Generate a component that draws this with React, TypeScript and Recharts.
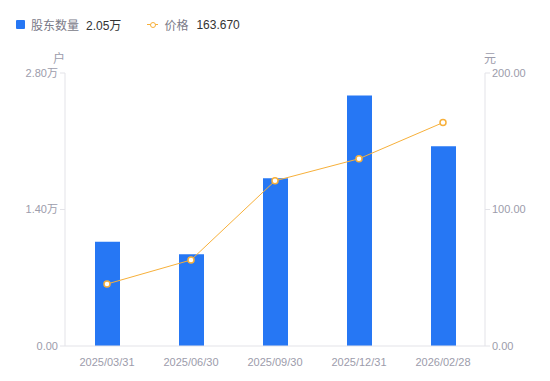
import { ComposedChart, Bar, Line, XAxis, YAxis } from 'recharts';

const dates = ['2025/03/31', '2025/06/30', '2025/09/30', '2025/12/31', '2026/02/28'];
// 股东数量, in 万户
const holders = [1.07, 0.94, 1.72, 2.57, 2.05];
// 价格, in 元
const prices = [45.4, 63.0, 121.0, 137.2, 163.67];
const leftTicks = [0, 1.4, 2.8];
const rightTicks = [0, 100, 200];

const data = dates.map((d, i) => ({ date: d, holders: holders[i], price: prices[i] }));

const FONT = '"Liberation Sans", Arial, "Noto Sans CJK SC", sans-serif';
const BLUE = '#2677f4';
const ORANGE = '#f7b03a';
const AXIS = '#e3e3e8';
const TICK = '#9c9cab';

export default function App() {
  return (
    <div style={{ position: 'absolute', left: 0, top: 0, width: 550, height: 381, background: '#fff', fontFamily: FONT }}>
      <div style={{ position: 'absolute', left: 16, top: 16, display: 'flex', alignItems: 'center', fontSize: 12, whiteSpace: 'nowrap' }}>
        <span style={{ width: 9, height: 9, background: BLUE, borderRadius: 1, display: 'inline-block', marginRight: 6 }} />
        <span style={{ color: '#7a7a88' }}>股东数量</span>
        <span style={{ color: '#333', marginLeft: 7 }}>2.05万</span>
        <span style={{ display: 'inline-block', position: 'relative', width: 11, height: 9, marginLeft: 26, marginRight: 6 }}>
          <span style={{ position: 'absolute', left: 0, top: 4, width: 11, height: 1, background: ORANGE }} />
          <span style={{ position: 'absolute', left: 2.5, top: 1.5, width: 4, height: 4, border: `1.5px solid ${ORANGE}`, borderRadius: '50%', background: '#fff' }} />
        </span>
        <span style={{ color: '#7a7a88' }}>价格</span>
        <span style={{ color: '#333', marginLeft: 8 }}>163.670</span>
      </div>
      <span style={{ position: 'absolute', left: 53, top: 49, fontSize: 12, color: TICK }}>户</span>
      <span style={{ position: 'absolute', left: 484, top: 49, fontSize: 12, color: TICK }}>元</span>
      <ComposedChart width={550} height={381} data={data} margin={{ top: 73, right: 0, bottom: 0, left: 0 }}>
        <XAxis
          dataKey="date"
          height={35}
          axisLine={{ stroke: AXIS }}
          tickLine={false}
          tick={{ fill: TICK, fontSize: 11, fontFamily: FONT }}
          tickMargin={6}
          interval={0}
        />
        <YAxis
          yAxisId="left"
          width={65}
          domain={[0, 2.8]}
          ticks={leftTicks}
          tickFormatter={(v: number) => (v === 0 ? '0.00' : `${v.toFixed(2)}万`)}
          axisLine={{ stroke: AXIS }}
          tickLine={{ stroke: AXIS }}
          tickSize={5}
          tickMargin={2}
          tick={{ fill: TICK, fontSize: 11, fontFamily: FONT }}
        />
        <YAxis
          yAxisId="right"
          orientation="right"
          width={65}
          domain={[0, 200]}
          ticks={rightTicks}
          tickFormatter={(v: number) => v.toFixed(2)}
          axisLine={{ stroke: AXIS }}
          tickLine={{ stroke: AXIS }}
          tickSize={5}
          tickMargin={2}
          tick={{ fill: TICK, fontSize: 11, fontFamily: FONT }}
        />
        <Bar yAxisId="left" dataKey="holders" fill={BLUE} barSize={25} isAnimationActive={false} />
        <Line
          yAxisId="right"
          type="linear"
          dataKey="price"
          stroke={ORANGE}
          strokeWidth={1}
          dot={{ r: 3, fill: '#fff', stroke: ORANGE, strokeWidth: 1.5 }}
          isAnimationActive={false}
        />
      </ComposedChart>
    </div>
  );
}
